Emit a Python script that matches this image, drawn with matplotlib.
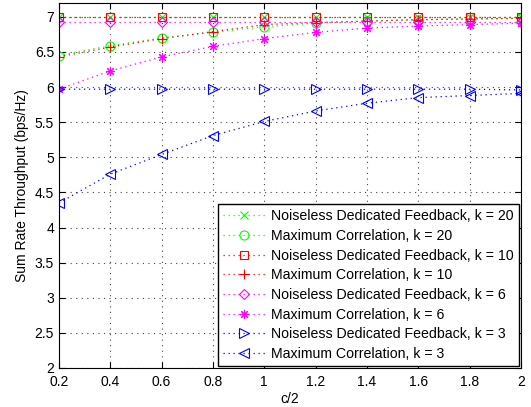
import numpy as np
import matplotlib
matplotlib.use("Agg")
import matplotlib.pyplot as plt

plt.rcParams['font.family'] = ['Liberation Sans', 'DejaVu Sans']

# c/2 values
c_half = [0.2, 0.4, 0.6, 0.8, 1.0, 1.2, 1.4, 1.6, 1.8, 2.0]

# sum rate throughput (bps/Hz)
ndf_k20 = [7.00, 7.00, 7.00, 7.00, 7.00, 7.00, 7.00, 7.00, 7.00, 7.00]
mc_k20 = [6.45, 6.59, 6.70, 6.78, 6.86, 6.91, 6.94, 6.96, 6.97, 6.98]
ndf_k10 = [7.00, 7.00, 7.00, 7.00, 7.00, 7.00, 7.00, 7.00, 7.00, 7.00]
mc_k10 = [6.43, 6.57, 6.69, 6.79, 6.89, 6.92, 6.94, 6.96, 6.97, 6.98]
ndf_k6 = [6.93, 6.93, 6.93, 6.93, 6.93, 6.93, 6.93, 6.93, 6.93, 6.93]
mc_k6 = [5.97, 6.23, 6.43, 6.58, 6.69, 6.78, 6.84, 6.87, 6.89, 6.91]
ndf_k3 = [5.97, 5.97, 5.97, 5.97, 5.97, 5.97, 5.97, 5.97, 5.97, 5.96]
mc_k3 = [4.35, 4.76, 5.04, 5.31, 5.51, 5.66, 5.77, 5.85, 5.88, 5.91]

series = [
    (ndf_k20, '#00ff00', 'x', 'Noiseless Dedicated Feedback, k = 20'),
    (mc_k20, '#00ff00', 'o', 'Maximum Correlation, k = 20'),
    (ndf_k10, '#ff0000', 's', 'Noiseless Dedicated Feedback, k = 10'),
    (mc_k10, '#ff0000', '+', 'Maximum Correlation, k = 10'),
    (ndf_k6, '#ff00ff', 'D', 'Noiseless Dedicated Feedback, k = 6'),
    (mc_k6, '#ff00ff', (8, 2, 0), 'Maximum Correlation, k = 6'),
    (ndf_k3, '#0000ff', '>', 'Noiseless Dedicated Feedback, k = 3'),
    (mc_k3, '#0000ff', '<', 'Maximum Correlation, k = 3'),
]

fig = plt.figure(figsize=(5.31, 4.07), dpi=100)
ax = fig.add_axes([0.111, 0.096, 0.870, 0.897])

for vals, col, mk, lab in series:
    ms = 6.5
    if mk == 'D':
        ms = 5
    if mk in ('s', 'x'):
        ms = 5.5
    ax.plot(c_half, vals, linestyle=(0, (1, 3)), color=col, marker=mk,
            markerfacecolor='none', markeredgecolor=col, markersize=ms,
            markeredgewidth=0.8, linewidth=0.9, label=lab)

ax.set_xlim(0.2, 2.0)
ax.set_ylim(2, 7.2)
ax.set_xticks(np.arange(0.2, 2.01, 0.2))
ax.set_xticklabels(['0.2', '0.4', '0.6', '0.8', '1', '1.2', '1.4', '1.6', '1.8', '2'])
ax.set_yticks(np.arange(2, 7.01, 0.5))
ax.set_yticklabels(['2', '2.5', '3', '3.5', '4', '4.5', '5', '5.5', '6', '6.5', '7'])
ax.tick_params(direction='in', labelsize=10, length=4, top=True, right=True)
ax.tick_params(axis='x', pad=5)
ax.grid(True, linestyle=(0, (1, 4)), color='#444444', linewidth=0.8)
ax.set_xlabel('c/2', fontsize=10, labelpad=2)
ax.set_ylabel('Sum Rate Throughput (bps/Hz)', fontsize=10, labelpad=4)

leg = ax.legend(loc='lower right', fontsize=10.2, handlelength=3,
                handletextpad=0.4, fancybox=False, edgecolor='black',
                framealpha=1, borderaxespad=0.15, labelspacing=0.4,
                borderpad=0.35)
leg.get_frame().set_linewidth(1.0)

fig.savefig('out.png', dpi=100)
